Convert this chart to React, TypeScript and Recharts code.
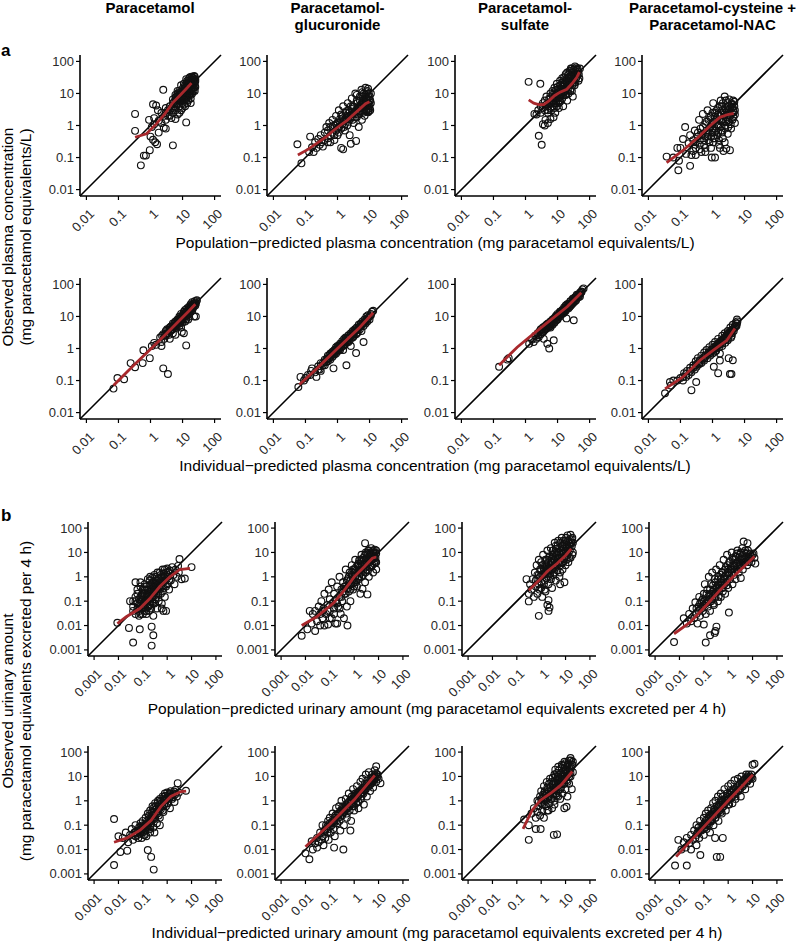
import { ScatterChart, Scatter, XAxis, YAxis, ReferenceLine } from 'recharts';

type Pt = [number, number];

const FONT = '"Liberation Sans", Arial, Helvetica, sans-serif';
const RED = '#a8282c';

const COLUMN_TITLES: string[][] = [
  ['Paracetamol'],
  ['Paracetamol-', 'glucuronide'],
  ['Paracetamol-', 'sulfate'],
  ['Paracetamol-cysteine +', 'Paracetamol-NAC'],
];

const PLASMA_TICKS = [0.01, 0.1, 1, 10, 100];
const URINE_TICKS = [0.001, 0.01, 0.1, 1, 10, 100];

// ---- a: plasma, population-predicted ----
const plasmaPopParacetamol: Pt[] = [
  [0.33, 2.3], [0.33, 0.68], [0.5, 0.057], [0.62, 0.115], [0.72, 0.115], [0.95, 0.17], [1.0, 0.45], [1.2, 0.36],
  [1.4, 0.3], [1.6, 0.26], [1.2, 4.6], [1.5, 4.2], [1.7, 3], [2.5, 13], [5, 0.24], [13, 1.25], [0.9, 1.5], [1.3, 1.7],
  [1.8, 1.4], [2.2, 1.2], [1.1, 0.9], [2.6, 0.85], [3, 0.8], [1.8, 0.6], [2.8, 2], [2.2, 2.5], [1.3, 1.1],
  [3, 2.5], [3.5, 3], [4, 2], [4, 4], [4.5, 3.5], [5, 2.5], [5, 5], [5.5, 4], [6, 3], [6, 6], [6.5, 8], [7, 5], [7, 2.2],
  [7.5, 7], [8, 4], [8, 9], [8.5, 6], [9, 11], [9, 3], [10, 5], [10, 8], [10, 14], [11, 10], [11, 6.5], [12, 4], [12, 12],
  [12, 18], [13, 8], [13, 15], [14, 10], [14, 25], [15, 6], [15, 13], [15, 20], [16, 30], [16, 9], [17, 16], [17, 12],
  [18, 22], [18, 7], [19, 28], [19, 14], [20, 18], [20, 10], [21, 25], [22, 30], [22, 15], [23, 20], [24, 12], [25, 24],
  [9, 18], [7, 12], [6, 9], [5, 6.5], [11, 20], [13, 28], [20, 32], [17, 32], [3, 1.5], [4.5, 1.7], [6, 1.6], [8, 2.5],
  [10, 3.5], [14, 5], [18, 5],
  [5.5, 5.5], [6.5, 4.5], [7, 6.5], [7.5, 9], [8, 7], [8.5, 11], [9, 6], [9.5, 8], [10, 10], [10.5, 12], [11, 7.5],
  [11.5, 16], [12, 9], [12.5, 11], [13, 13], [13.5, 20], [14, 14], [14.5, 8], [15, 17], [15.5, 11], [16, 14], [16.5, 22],
  [17, 20], [17.5, 10], [18, 17], [18.5, 27], [19, 12], [20, 22], [20, 15], [21, 20], [21, 30], [22, 20], [23, 26],
  [24, 18], [24, 33], [25, 28], [19, 33], [16, 18], [14, 22], [12, 14], [10, 6.5], [9, 9], [8, 12], [7, 10], [6, 7.5],
  [5, 3.5], [4, 3], [3.5, 2], [3, 3.5], [20, 25], [22, 12], [18, 9], [15, 11], [13, 6], [11, 4.5], [6, 5], [6.5, 6.5],
  [23, 35], [25, 16],
];
const plasmaPopGlucuronide: Pt[] = [
  [0.056, 0.26], [0.075, 0.066], [0.13, 0.15], [0.14, 0.45], [0.16, 0.21], [0.18, 0.15], [0.2, 0.3], [0.22, 0.2],
  [0.25, 0.38], [0.28, 0.25], [0.3, 0.5], [0.32, 0.3], [0.35, 0.22], [0.4, 0.6], [0.4, 0.35], [0.45, 0.9], [0.5, 0.4],
  [0.5, 0.7], [0.55, 1.2], [0.6, 0.5], [0.6, 0.9], [0.7, 1.5], [0.7, 0.6], [0.8, 1.0], [0.8, 0.35], [0.9, 2], [0.9, 0.7],
  [1, 1.2], [1, 0.5], [1.1, 3], [1.1, 0.9], [1.2, 1.6], [1.3, 0.2], [1.3, 2.2], [1.4, 1.1], [1.5, 0.18], [1.5, 4],
  [1.6, 1.4], [1.7, 0.7], [1.8, 2.5], [1.9, 1.8], [2, 1.0], [2.1, 5], [2.2, 3], [2.4, 0.5], [2.5, 1.6], [2.6, 0.27],
  [2.7, 2.2], [2.8, 7], [3, 4], [3.2, 1.2], [3.4, 2.8], [3.6, 10], [3.8, 0.33], [4, 6], [4, 1.8], [4.3, 3.5], [4.6, 0.9],
  [5, 8], [5, 2.4], [5.3, 4.5], [5.6, 13], [5.8, 1.5], [6, 3], [6.3, 6], [6.6, 10], [7, 2], [7, 4], [7.5, 15], [7.8, 7],
  [8, 3], [8, 5], [8.5, 12], [9, 2.6], [9, 8], [9.5, 4], [10, 6], [10, 3.5], [11, 10], [11, 5],
  [1, 0.8], [1.2, 1.2], [1.4, 2], [1.6, 0.9], [1.8, 1.5], [2, 2], [2.2, 1.3], [2.4, 2.6], [2.6, 1.8], [2.8, 3.3],
  [3, 2.3], [3, 1.5], [3.3, 3.8], [3.5, 1.8], [3.7, 2.5], [4, 3], [4.2, 5], [4.5, 2.2], [4.8, 3.8], [5, 6], [5.3, 2.8],
  [5.5, 3.5], [5.8, 5], [6, 8], [6, 4], [6.3, 2.5], [6.6, 5.5], [7, 3.2], [7, 6.5], [7.3, 9], [7.5, 4.5], [7.8, 2.8],
  [8, 6], [8, 11], [8.3, 4], [8.6, 7], [9, 3.2], [9, 5], [9.5, 10], [9.5, 2.8], [10, 4.5], [10, 8], [10.5, 3], [10.5, 6],
  [0.5, 0.3], [0.6, 0.3], [0.7, 0.9], [0.8, 0.5], [0.9, 1.1], [1.1, 0.6], [1.3, 0.8], [1.5, 1.7], [1.7, 1.1],
  [1.9, 2.8], [2.2, 1.8], [2.6, 4], [9, 14], [6, 11], [4, 9],
];
const plasmaPopSulfate: Pt[] = [
  [1.25, 23], [2.9, 20], [2.6, 0.48], [3.2, 0.25], [1.9, 2.3], [2.2, 2.2], [3.5, 1.1], [4.2, 1.5], [5, 1.2], [6, 1.6],
  [7.5, 1.8], [4, 1.0], [2.5, 3], [3, 4], [3, 2.5], [3.5, 5], [4, 3], [4, 6], [4.5, 8], [5, 4], [5, 2.5], [5.5, 7], [6, 5],
  [6, 10], [6.5, 3], [7, 12], [7, 6], [7.5, 4], [8, 8], [8, 15], [8.5, 2.5], [9, 10], [9, 5], [9.5, 20], [10, 7], [10, 13],
  [11, 3.5], [11, 9], [12, 18], [12, 25], [12, 5.5], [13, 11], [14, 30], [14, 7], [15, 14], [15, 4], [16, 20], [17, 9],
  [18, 40], [18, 12], [19, 25], [20, 6], [20, 16], [22, 30], [22, 10], [24, 50], [24, 20], [26, 14], [27, 35], [28, 60],
  [30, 25], [30, 8], [32, 45], [34, 18], [35, 70], [38, 30], [40, 55], [42, 40], [45, 25], [48, 30], [50, 60], [28, 12],
  [36, 22], [16, 32],
  [5, 3], [5.5, 5], [6, 7], [6.5, 5], [7, 9], [7.5, 6], [8, 11], [8, 5], [9, 7], [9, 13], [10, 9], [10, 16], [11, 11],
  [11, 6], [12, 8], [12, 14], [13, 18], [13, 9], [14, 12], [14, 22], [15, 17], [15, 9], [16, 12], [16, 26], [17, 19],
  [17, 14], [18, 24], [18, 9], [19, 16], [20, 20], [20, 30], [21, 13], [22, 24], [22, 40], [23, 18], [24, 28], [25, 35],
  [25, 12], [26, 22], [27, 45], [28, 30], [29, 18], [30, 40], [31, 55], [32, 30], [33, 22], [35, 35], [36, 50], [38, 42],
  [40, 35], [42, 60], [44, 48], [46, 40], [6, 3.5], [8, 3.5], [9.5, 4], [11, 5], [3.5, 3.5], [4.5, 4.5], [38, 65],
  [26, 60], [20, 45],
];
const plasmaPopCysteine: Pt[] = [
  [0.037, 0.107], [0.086, 0.04], [0.09, 0.08], [0.14, 0.9], [0.2, 0.055], [0.25, 0.16], [0.1, 0.2], [0.12, 0.38],
  [0.15, 0.13], [0.18, 0.28], [0.2, 0.5], [0.22, 0.12], [0.25, 0.35], [0.28, 0.7], [0.3, 0.2], [0.3, 0.12], [0.35, 0.45],
  [0.38, 1.5], [0.4, 0.25], [0.42, 0.8], [0.45, 0.15], [0.5, 0.55], [0.5, 2.3], [0.55, 0.35], [0.6, 1.1], [0.6, 0.2],
  [0.65, 0.7], [0.7, 3], [0.7, 0.45], [0.75, 1.5], [0.8, 0.3], [0.85, 0.9], [0.9, 2], [0.95, 0.1], [1, 0.6], [1, 1.2],
  [1.05, 5], [1.1, 0.4], [1.15, 0.8], [1.2, 0.1], [1.2, 2.5], [1.3, 1.5], [1.4, 0.5], [1.5, 3.5], [1.5, 1], [1.6, 0.25],
  [1.7, 2], [1.7, 0.2], [1.8, 6], [1.9, 0.7], [2, 1.3], [2, 4], [2.1, 0.4], [2.3, 2.8], [2.4, 8], [2.5, 1], [2.7, 0.19],
  [2.8, 1.8], [3, 5], [3, 0.55], [3.2, 3], [3.3, 1.3], [3.5, 0.17], [3.6, 2], [3.8, 0.8], [4, 4.5], [4.2, 1.5], [4.5, 3],
  [4.8, 5.5], [5, 2.2], [2.2, 0.16], [0.08, 0.2], [0.06, 0.1],
  [0.3, 0.3], [0.35, 0.6], [0.4, 0.35], [0.45, 0.5], [0.5, 0.9], [0.55, 0.25], [0.6, 0.45], [0.65, 1.3], [0.7, 0.6],
  [0.75, 0.35], [0.8, 0.8], [0.85, 1.8], [0.9, 0.45], [0.95, 1.1], [1, 0.8], [1, 2.5], [1.05, 0.3], [1.1, 1.3],
  [1.15, 0.6], [1.2, 1.9], [1.3, 0.7], [1.35, 3], [1.4, 1.1], [1.5, 0.6], [1.5, 2.2], [1.6, 1.5], [1.7, 4], [1.8, 0.9],
  [1.8, 2.5], [1.9, 1.4], [2, 0.6], [2, 3], [2.1, 5], [2.2, 1.6], [2.3, 2.2], [2.5, 3.5], [2.5, 0.8], [2.6, 6],
  [2.7, 1.3], [2.8, 2.6], [3, 1.5], [3, 4], [3.1, 0.9], [3.3, 6.5], [3.4, 2.2], [3.6, 3.5], [3.7, 1.1], [3.9, 5],
  [4, 2.5], [4.2, 3.8], [4.4, 6], [4.5, 1.8], [4.6, 2.6], [4.8, 4], [5, 3], [5, 1.2], [1.2, 0.4], [0.9, 0.2],
  [0.6, 0.15], [0.4, 0.18], [2.4, 0.3], [1.6, 0.35],
];

// ---- a: plasma, individual-predicted ----
const plasmaIndParacetamol: Pt[] = [
  [0.07, 0.056], [0.093, 0.12], [0.15, 0.11], [0.24, 0.35], [0.33, 0.26], [0.6, 0.88], [0.57, 0.35], [0.95, 0.5],
  [1.3, 1.5], [1.1, 1.2], [2.5, 0.24], [3.5, 0.16], [13, 1.25], [9.5, 3.3], [11, 3], [23, 10], [1.5, 1.3], [2, 2.2],
  [2.2, 1.6], [2.5, 2.8], [2.7, 2], [3, 3.5], [3, 2.5], [3.3, 4], [3.5, 3], [3.8, 2.7], [4, 4.5], [4.2, 3.5], [4.5, 5],
  [4.8, 4], [5, 6], [5, 3], [5.5, 5], [6, 7], [6, 4.5], [6.5, 5.5], [7, 8], [7, 6], [7.5, 7], [8, 10], [8, 5], [8.5, 8],
  [9, 7], [9, 12], [10, 9], [10, 11], [11, 14], [11, 8], [12, 10], [12, 16], [13, 12], [13, 8], [14, 18], [14, 11],
  [15, 14], [16, 20], [16, 12], [17, 17], [18, 24], [18, 14], [19, 20], [20, 28], [21, 18], [22, 25], [24, 30], [25, 22],
  [27, 30], [26, 10], [15, 8], [9, 4.5], [6, 2.7], [4, 2], [2.2, 1.2],
  [2.3, 2.5], [2.8, 2.6], [3.2, 3], [3.6, 3.8], [4, 3.6], [4.3, 4.8], [4.6, 3.8], [5, 5], [5.3, 4.5], [5.6, 6], [6, 5.5],
  [6.3, 6.5], [6.6, 5], [7, 7.5], [7.3, 6.5], [7.6, 8], [8, 7.5], [8.3, 9], [8.6, 7], [9, 9], [9.5, 8.5], [10, 10],
  [10.5, 9], [11, 11], [11.5, 12], [12, 13], [12.5, 11], [13, 14], [13.5, 13], [14, 15], [14.5, 12], [15, 16], [16, 15],
  [16, 17], [17, 19], [17, 14], [18, 18], [19, 22], [19, 17], [20, 20], [21, 23], [22, 20], [23, 25], [24, 24], [25, 27],
  [26, 25], [28, 32], [20, 15], [16, 10], [12, 7], [10, 6.5], [8, 6],
];
const plasmaIndGlucuronide: Pt[] = [
  [0.06, 0.063], [0.07, 0.13], [0.09, 0.1], [0.1, 0.12], [0.12, 0.15], [0.14, 0.15], [0.15, 0.2], [0.16, 0.24],
  [0.2, 0.18], [0.22, 0.13], [0.25, 0.28], [0.28, 0.22], [0.3, 0.2], [0.3, 0.35], [0.35, 0.3], [0.4, 0.45], [0.4, 0.3],
  [0.45, 0.38], [0.5, 0.6], [0.5, 0.4], [0.55, 0.5], [0.6, 0.7], [0.6, 0.45], [0.7, 0.8], [0.7, 0.55], [0.8, 0.9],
  [0.8, 0.65], [0.9, 1.1], [0.9, 0.7], [1, 1.2], [1, 0.8], [1.1, 0.9], [1.2, 1.4], [1.3, 1.1], [1.4, 1.7], [1.5, 1.2],
  [1.6, 2], [1.7, 1.3], [1.9, 0.3], [1.8, 2.2], [2, 1.6], [2.2, 2.6], [2.4, 1.8], [2.6, 3], [2.8, 2.2], [3, 3.5],
  [3.2, 2.4], [3.5, 4], [3.8, 0.72], [3.8, 2.8], [4, 4.5], [4.3, 3.2], [4.6, 5.5], [5, 4], [5.3, 6], [5.6, 3.5], [6, 7],
  [6.5, 1.6], [6.5, 5], [7, 8], [7.5, 6], [8, 10], [8.5, 7], [9, 11], [10, 8], [11, 12], [12, 14], [13, 15], [2.6, 1.2],
  [1.5, 0.9], [0.75, 0.24],
  [0.5, 0.5], [0.55, 0.6], [0.6, 0.55], [0.65, 0.7], [0.7, 0.65], [0.75, 0.8], [0.8, 0.75], [0.85, 0.85], [0.9, 0.95],
  [0.95, 0.85], [1, 1], [1.05, 1.1], [1.1, 1.2], [1.15, 1], [1.2, 1.2], [1.3, 1.3], [1.4, 1.4], [1.5, 1.5], [1.6, 1.5],
  [1.7, 1.8], [1.8, 1.6], [1.9, 2], [2, 2], [2.1, 2.2], [2.3, 2.1], [2.5, 2.5], [2.7, 2.7], [2.9, 2.6], [3.1, 3.1],
  [3.4, 3.3], [3.6, 3.5], [4, 3.8], [4.4, 4.3], [4.8, 4.6], [5.2, 5], [5.7, 5.5], [6.2, 6], [6.8, 6.5], [7.5, 7.2],
  [8.2, 8], [9, 9], [10, 10], [11, 11], [0.35, 0.35], [0.4, 0.38], [0.45, 0.45], [0.25, 0.22], [0.3, 0.28], [1.2, 0.9],
  [2.2, 1.6], [3, 2.2], [4, 3],
];
const plasmaIndSulfate: Pt[] = [
  [0.15, 0.27], [0.27, 0.45], [0.3, 0.5], [1.3, 1.4], [1.6, 1.9], [1.8, 1.6], [2, 2.5], [2.2, 2], [2.4, 3], [2.6, 2.3],
  [2.8, 3.5], [3, 2.8], [3, 4], [3.3, 3.2], [3.5, 4.5], [3.7, 2], [3.8, 3.6], [4, 5], [4.2, 4], [4.5, 5.5], [4.8, 1.4],
  [5, 4.5], [5, 6], [5.5, 1.0], [5.5, 5.5], [6, 7], [6, 4.5], [6.5, 6], [7, 8], [7, 5.5], [7.6, 1.8], [8, 9], [8, 6.5],
  [9, 10], [9, 7.5], [10, 12], [10, 8.5], [11, 10], [12, 14], [12, 10], [13, 12], [14, 16], [15, 13], [16, 19], [17, 15],
  [18, 22], [19, 8.7], [20, 18], [22, 25], [24, 20], [26, 30], [28, 24], [30, 35], [32, 7.6], [32, 28], [35, 40],
  [38, 32], [40, 48], [45, 40], [50, 55], [55, 60], [60, 70], [65, 75], [50, 42],
  [2.5, 2.6], [3, 3.3], [3.5, 3.2], [4, 4.2], [4.5, 4.2], [5, 5.2], [5.5, 4.8], [6, 6.2], [6.5, 7], [7, 6.8], [7.5, 7.8],
  [8, 7.6], [8.5, 8.4], [9, 9.2], [9.5, 9.8], [10, 9.6], [11, 11.5], [12, 11.6], [13, 13.5], [14, 13.6], [15, 15.5],
  [16, 15.6], [17, 17.5], [18, 17.4], [19, 19.6], [20, 19.4], [22, 22.8], [24, 23.2], [26, 26.5], [28, 27], [30, 31],
  [33, 32], [36, 37], [40, 39], [44, 45], [48, 47], [52, 54], [56, 58], [14, 12], [16, 13], [18, 15], [22, 18], [26, 22],
  [30, 26], [35, 30], [10, 8], [8, 6.5], [6, 5], [20, 24], [25, 30], [30, 36], [40, 45], [12, 14], [9, 10.5],
];
const plasmaIndCysteine: Pt[] = [
  [0.033, 0.04], [0.047, 0.09], [0.06, 0.1], [0.05, 0.07], [0.22, 0.05], [0.31, 0.09], [1.1, 0.27], [1.5, 0.17],
  [3.5, 0.16], [3.9, 0.16], [4.3, 0.43], [1.7, 0.42], [0.08, 0.1], [0.1, 0.12], [0.12, 0.1], [0.13, 0.17], [0.15, 0.13],
  [0.16, 0.2], [0.18, 0.15], [0.2, 0.25], [0.22, 0.18], [0.25, 0.3], [0.28, 0.22], [0.3, 0.4], [0.32, 0.27], [0.35, 0.5],
  [0.38, 0.32], [0.4, 0.42], [0.45, 0.6], [0.45, 0.35], [0.5, 0.5], [0.55, 0.75], [0.55, 0.42], [0.6, 0.6], [0.65, 0.9],
  [0.7, 0.5], [0.75, 0.75], [0.8, 1.1], [0.85, 0.6], [0.9, 0.9], [1, 1.3], [1, 0.7], [1.1, 1], [1.2, 1.6], [1.3, 0.85],
  [1.4, 1.2], [1.5, 2], [1.6, 1.3], [1.7, 0.7], [1.8, 1.7], [2, 2.5], [2, 1.2], [2.2, 1.8], [2.4, 3], [2.5, 1.5],
  [2.7, 2.2], [3, 3.5], [3, 1.8], [3.2, 0.5], [3.3, 2.6], [3.6, 4.5], [3.8, 2.2], [4, 3], [4.3, 5.5], [4.6, 3.5],
  [5, 4.5], [5.3, 6.5], [5.6, 5], [6, 7], [5.8, 8],
  [0.5, 0.45], [0.6, 0.55], [0.7, 0.65], [0.8, 0.7], [0.9, 0.8], [1, 0.9], [1.1, 1.1], [1.2, 1], [1.3, 1.2], [1.4, 1.3],
  [1.5, 1.4], [1.6, 1.5], [1.7, 1.6], [1.8, 1.4], [1.9, 1.8], [2, 1.7], [2.2, 2], [2.4, 2.1], [2.6, 2.4], [2.8, 2.5],
  [3, 2.8], [3.2, 3], [3.4, 3.2], [3.6, 3.3], [3.8, 3.6], [4, 3.8], [4.3, 4], [4.6, 4.2], [5, 5], [5.4, 5.2], [5.8, 6],
  [0.3, 0.3], [0.35, 0.35], [0.4, 0.36], [0.25, 0.25], [0.2, 0.2], [0.15, 0.16], [0.12, 0.13], [1.2, 0.8], [2, 1.4],
  [3, 2], [4, 2.5], [2.5, 1.8], [1.6, 1.1],
];

// ---- b: urine, population-predicted ----
const urinePopParacetamol: Pt[] = [
  [0.009, 0.013], [0.027, 0.008], [0.04, 0.002], [0.075, 0.007], [0.23, 0.0015], [0.23, 0.009], [0.27, 0.004],
  [0.14, 0.03], [0.27, 0.025], [0.6, 0.05], [0.7, 0.04], [3.9, 0.8], [3.2, 5.4], [10, 2.5], [5.3, 0.85], [0.03, 0.1],
  [0.05, 0.6], [0.08, 0.6], [0.04, 0.04], [0.04, 0.06], [0.05, 0.1], [0.05, 0.03], [0.06, 0.2], [0.06, 0.05],
  [0.07, 0.12], [0.07, 0.025], [0.08, 0.4], [0.08, 0.08], [0.09, 0.05], [0.09, 0.18], [0.1, 0.3], [0.1, 0.12],
  [0.1, 0.03], [0.11, 0.07], [0.12, 0.5], [0.12, 0.2], [0.13, 0.1], [0.14, 0.04], [0.15, 0.3], [0.15, 0.15], [0.16, 0.8],
  [0.17, 0.06], [0.18, 0.2], [0.19, 0.45], [0.2, 0.1], [0.2, 1.0], [0.22, 0.3], [0.22, 0.05], [0.24, 0.15], [0.25, 0.6],
  [0.26, 0.08], [0.28, 0.25], [0.3, 1.2], [0.3, 0.4], [0.32, 0.12], [0.34, 0.7], [0.35, 0.2], [0.38, 0.05], [0.4, 0.5],
  [0.4, 1.5], [0.42, 0.3], [0.45, 0.1], [0.48, 0.8], [0.5, 0.4], [0.55, 1.2], [0.55, 0.2], [0.6, 0.6], [0.65, 2],
  [0.7, 0.35], [0.75, 1], [0.8, 0.15], [0.85, 0.7], [0.9, 1.5], [1, 0.5], [1, 2.2], [1.1, 1], [1.2, 0.3], [1.3, 1.8],
  [1.4, 0.7], [1.6, 2.5], [1.8, 1.2], [2, 0.5], [2.2, 2], [2.5, 1], [2.8, 2.8], [3, 1.5], [0.6, 0.08], [0.9, 0.04],
  [0.06, 0.08], [0.07, 0.04], [0.08, 0.15], [0.09, 0.1], [0.1, 0.06], [0.1, 0.2], [0.11, 0.15], [0.12, 0.08],
  [0.12, 0.3], [0.13, 0.05], [0.14, 0.15], [0.14, 0.4], [0.15, 0.1], [0.16, 0.2], [0.16, 0.06], [0.17, 0.3], [0.18, 0.12],
  [0.19, 0.7], [0.2, 0.25], [0.2, 0.07], [0.21, 0.15], [0.22, 0.5], [0.23, 0.2], [0.24, 0.9], [0.25, 0.1], [0.26, 0.35],
  [0.27, 0.18], [0.28, 0.6], [0.3, 0.25], [0.3, 0.08], [0.32, 0.45], [0.33, 1], [0.35, 0.3], [0.36, 0.15], [0.38, 0.7],
  [0.4, 0.4], [0.42, 0.2], [0.45, 0.9], [0.45, 0.55], [0.5, 0.3], [0.5, 1.5], [0.55, 0.7], [0.6, 0.4], [0.6, 1],
  [0.65, 0.25], [0.7, 1.3], [0.7, 0.6], [0.8, 0.9], [0.8, 2], [0.9, 0.4], [1, 1], [1.1, 1.6], [1.2, 0.7], [0.08, 0.03],
  [0.12, 0.04], [0.18, 0.04], [0.05, 0.15], [0.04, 0.1], [0.06, 0.3],
];
const urinePopGlucuronide: Pt[] = [
  [0.007, 0.0038], [0.012, 0.007], [0.015, 0.04], [0.018, 0.012], [0.02, 0.03], [0.025, 0.006], [0.025, 0.04],
  [0.03, 0.015], [0.035, 0.06], [0.04, 0.01], [0.04, 0.03], [0.045, 0.1], [0.05, 0.02], [0.055, 0.05], [0.06, 0.01],
  [0.06, 0.2], [0.07, 0.03], [0.08, 0.07], [0.085, 0.011], [0.09, 0.3], [0.1, 0.04], [0.1, 0.12], [0.12, 0.02],
  [0.12, 0.6], [0.13, 0.08], [0.15, 0.2], [0.15, 0.03], [0.17, 0.012], [0.18, 0.1], [0.2, 0.4], [0.2, 0.012],
  [0.22, 0.06], [0.25, 1], [0.25, 0.15], [0.28, 0.03], [0.3, 0.3], [0.32, 0.1], [0.35, 0.6], [0.38, 0.02], [0.4, 0.2],
  [0.45, 2], [0.45, 0.4], [0.5, 0.06], [0.53, 0.01], [0.55, 0.8], [0.6, 0.25], [0.65, 1.5], [0.7, 0.1], [0.75, 0.5],
  [0.8, 3], [0.85, 1], [0.9, 0.3], [1, 2], [1, 0.6], [1.1, 5], [1.2, 1.2], [1.3, 0.4], [1.4, 3], [1.5, 0.8], [1.6, 4.8],
  [1.7, 1.8], [1.8, 0.2], [2, 8], [2, 2.5], [2.2, 0.32], [2.3, 1.2], [2.5, 5], [2.7, 3], [2.8, 0.6], [2.8, 24], [3, 10],
  [3.3, 2], [3.5, 0.19], [3.5, 6], [3.8, 12], [4, 1], [4.2, 4], [4.5, 8], [5, 15], [5, 2.5], [5.5, 5], [6, 10], [6, 1.5],
  [6.5, 3.5], [7, 7], [7, 13], [7.5, 4], [8, 9], [8, 2],
  [0.3, 0.15], [0.35, 0.25], [0.4, 0.4], [0.45, 0.2], [0.5, 0.7], [0.55, 0.35], [0.6, 0.5], [0.6, 1], [0.7, 0.7],
  [0.7, 0.3], [0.8, 1.2], [0.8, 0.5], [0.9, 0.8], [0.9, 2], [1, 1.5], [1, 0.4], [1.1, 1], [1.2, 2.5], [1.2, 0.6],
  [1.3, 1.5], [1.4, 0.9], [1.5, 3.5], [1.5, 1.8], [1.6, 1], [1.7, 2.5], [1.8, 5], [1.9, 1.5], [2, 3], [2, 1], [2.2, 4],
  [2.3, 6], [2.4, 2], [2.6, 3.5], [2.8, 8], [2.9, 1.5], [3, 4.5], [3.2, 2.5], [3.4, 9], [3.5, 3.5], [3.7, 1.8], [3.9, 5],
  [4, 12], [4.2, 7], [4.5, 3], [4.7, 10], [5, 5], [5, 7], [5.5, 3], [5.5, 9], [6, 12], [6, 5.5], [6.5, 7], [7, 4.5],
  [7, 10], [7.5, 6], [8, 12], [8, 4], [0.15, 0.05], [0.2, 0.08], [0.25, 0.05], [0.1, 0.02], [0.05, 0.04], [0.08, 0.04],
];
const urinePopSulfate: Pt[] = [
  [0.31, 0.098], [0.31, 0.2], [0.8, 0.025], [2, 0.11], [2, 0.04], [2.2, 0.055], [1.8, 0.07], [0.25, 0.8], [0.35, 0.5],
  [0.4, 0.3], [0.45, 0.8], [0.5, 0.15], [0.55, 1.5], [0.6, 0.4], [0.65, 3], [0.7, 0.8], [0.7, 0.2], [0.8, 5], [0.8, 1.2],
  [0.85, 0.3], [0.9, 2], [1, 0.6], [1, 4], [1.1, 1.2], [1.1, 0.15], [1.2, 8], [1.2, 2.5], [1.3, 0.5], [1.4, 1.5],
  [1.5, 5], [1.5, 0.25], [1.6, 0.9], [1.7, 3], [1.8, 12], [1.9, 1.8], [2, 0.5], [2.1, 6], [2.2, 2.5], [2.4, 1], [2.5, 15],
  [2.6, 4], [2.8, 0.35], [3, 8], [3, 2], [3.2, 1.2], [3.4, 5], [3.6, 25], [3.8, 3], [4, 19], [4, 0.7], [4.3, 10],
  [4.6, 1.8], [5, 6], [5, 30], [5.3, 3.5], [5.6, 1], [6, 15], [6, 0.5], [6.5, 8], [7, 4], [7, 40], [7.5, 2], [8, 20],
  [8.5, 10], [9, 5.5], [9, 0.6], [10, 30], [10, 3], [11, 15], [12, 8], [12, 50], [13, 4], [14, 25], [15, 12], [16, 53],
  [16, 6], [18, 35], [18, 18], [20, 10], [20, 25],
  [0.6, 0.7], [0.7, 1.2], [0.8, 0.5], [0.9, 1], [1, 1.8], [1, 0.35], [1.1, 3], [1.2, 1.2], [1.3, 2], [1.4, 0.7],
  [1.5, 3], [1.6, 1.5], [1.7, 5], [1.8, 2.5], [1.9, 1], [2, 4], [2.1, 2], [2.2, 7], [2.3, 1.3], [2.5, 3], [2.6, 5.5],
  [2.8, 2], [3, 4], [3, 12], [3.2, 7], [3.4, 2.5], [3.5, 9], [3.7, 4.5], [4, 6], [4, 14], [4.3, 3], [4.5, 8], [4.8, 20],
  [5, 4], [5.3, 10], [5.6, 6], [6, 25], [6, 3], [6.5, 12], [7, 6], [7.3, 18], [7.6, 9], [8, 30], [8, 4], [8.5, 14],
  [9, 22], [9.5, 7], [10, 12], [10.5, 40], [11, 5], [11.5, 20], [12, 10], [13, 30], [13, 15], [14, 6], [15, 35],
  [15, 18], [17, 25], [19, 40], [19, 8], [2.5, 0.8], [3.5, 1.5], [6, 1.5], [1.4, 0.3],
];
const urinePopCysteine: Pt[] = [
  [0.006, 0.0021], [0.12, 0.002], [0.18, 0.004], [0.28, 0.005], [0.33, 0.009], [0.1, 0.011], [1.07, 0.034], [4.3, 28],
  [6.2, 24], [0.3, 0.006], [0.015, 0.02], [0.02, 0.012], [0.025, 0.03], [0.03, 0.015], [0.035, 0.05], [0.04, 0.02],
  [0.045, 0.09], [0.05, 0.03], [0.055, 0.012], [0.06, 0.06], [0.065, 0.15], [0.07, 0.025], [0.08, 0.1], [0.09, 0.04],
  [0.1, 0.2], [0.1, 0.07], [0.11, 0.5], [0.12, 0.03], [0.13, 0.12], [0.14, 0.3], [0.15, 0.06], [0.16, 1], [0.17, 0.18],
  [0.18, 0.04], [0.2, 0.5], [0.2, 0.1], [0.22, 1.5], [0.24, 0.25], [0.26, 0.07], [0.28, 0.8], [0.3, 0.15], [0.32, 2],
  [0.35, 0.4], [0.38, 0.1], [0.4, 1], [0.42, 0.25], [0.45, 3], [0.5, 0.6], [0.5, 0.15], [0.55, 1.5], [0.6, 0.35],
  [0.65, 5], [0.7, 1], [0.75, 0.2], [0.8, 2.5], [0.85, 0.6], [0.9, 8], [1, 1.5], [1, 0.35], [1.1, 4], [1.2, 0.8],
  [1.3, 2], [1.4, 10], [1.5, 0.5], [1.6, 5], [1.7, 1.2], [1.8, 3], [2, 7], [2, 0.8], [2.2, 2], [2.4, 12], [2.5, 4],
  [2.7, 1.5], [3, 8], [3, 3], [3.3, 0.9], [3.5, 5], [3.8, 15], [4, 2], [4.5, 10], [5, 4], [5.5, 7], [6, 3], [6.5, 12],
  [7, 6], [8, 9], [9, 4], [10, 8], [12, 6], [13, 3.5],
  [0.05, 0.05], [0.06, 0.04], [0.07, 0.08], [0.08, 0.05], [0.09, 0.12], [0.1, 0.1], [0.12, 0.08], [0.13, 0.2],
  [0.15, 0.15], [0.16, 0.09], [0.18, 0.3], [0.2, 0.2], [0.22, 0.12], [0.24, 0.45], [0.25, 0.3], [0.28, 0.2], [0.3, 0.6],
  [0.32, 0.35], [0.35, 0.25], [0.38, 0.8], [0.4, 0.5], [0.45, 0.35], [0.48, 1.2], [0.5, 0.8], [0.55, 0.5], [0.6, 1.5],
  [0.65, 0.8], [0.7, 0.5], [0.75, 2], [0.8, 1.2], [0.9, 0.8], [0.95, 3], [1, 2], [1.1, 1.2], [1.2, 4], [1.3, 2.5],
  [1.4, 1.5], [1.5, 6], [1.6, 3], [1.8, 2], [1.9, 5], [2.1, 3.5], [2.3, 9], [2.5, 2.5], [2.7, 6], [2.9, 4], [3.2, 10],
  [3.5, 3], [3.8, 7], [4, 5], [4.5, 4], [5, 12], [5, 6], [6, 9], [6.5, 5], [7, 4], [8, 6], [9, 7], [11, 9], [0.4, 0.15],
  [0.6, 0.25], [0.9, 0.45], [0.25, 0.08],
];

// ---- b: urine, individual-predicted ----
const urineIndParacetamol: Pt[] = [
  [0.0066, 0.18], [0.0066, 0.0023], [0.01, 0.035], [0.012, 0.008], [0.023, 0.009], [0.16, 0.0095], [0.22, 0.005],
  [0.28, 0.0015], [5.9, 2.6], [2.7, 5.3], [0.015, 0.03], [0.02, 0.05], [0.025, 0.02], [0.03, 0.04], [0.035, 0.07],
  [0.04, 0.025], [0.045, 0.05], [0.05, 0.1], [0.05, 0.035], [0.06, 0.06], [0.065, 0.03], [0.07, 0.08], [0.075, 0.045],
  [0.08, 0.12], [0.085, 0.05], [0.09, 0.03], [0.1, 0.07], [0.1, 0.15], [0.11, 0.04], [0.12, 0.1], [0.13, 0.2],
  [0.13, 0.06], [0.14, 0.035], [0.15, 0.12], [0.16, 0.3], [0.17, 0.08], [0.18, 0.18], [0.2, 0.05], [0.2, 0.4],
  [0.22, 0.12], [0.24, 0.25], [0.25, 0.6], [0.27, 0.08], [0.28, 0.35], [0.3, 0.18], [0.32, 0.8], [0.35, 0.45],
  [0.38, 0.12], [0.4, 0.3], [0.42, 1], [0.45, 0.6], [0.5, 0.2], [0.5, 1.2], [0.55, 0.45], [0.6, 0.8], [0.65, 1.5],
  [0.7, 0.35], [0.75, 1], [0.8, 2], [0.9, 0.6], [1, 1.3], [1, 2.2], [1.1, 0.8], [1.2, 1.8], [1.3, 0.5], [1.4, 2.5],
  [1.6, 1.2], [1.8, 2], [2, 0.9], [2.2, 2.8], [2.5, 1.5], [3, 2.2], [0.3, 0.05], [0.5, 0.1],
  [0.05, 0.05], [0.06, 0.04], [0.07, 0.06], [0.08, 0.05], [0.09, 0.07], [0.1, 0.05], [0.1, 0.1], [0.11, 0.08],
  [0.12, 0.06], [0.13, 0.1], [0.14, 0.08], [0.15, 0.15], [0.16, 0.1], [0.17, 0.12], [0.18, 0.25], [0.2, 0.15],
  [0.21, 0.1], [0.22, 0.2], [0.24, 0.35], [0.25, 0.18], [0.27, 0.5], [0.28, 0.25], [0.3, 0.35], [0.32, 0.2], [0.33, 0.6],
  [0.35, 0.3], [0.38, 0.5], [0.4, 0.8], [0.42, 0.4], [0.45, 0.25], [0.47, 0.7], [0.5, 0.5], [0.55, 1], [0.6, 0.6],
  [0.65, 0.4], [0.7, 1.2], [0.75, 0.7], [0.8, 1], [0.85, 1.6], [0.9, 1.1], [1, 0.8], [1.1, 1.5], [1.2, 1.2], [1.3, 2],
  [1.5, 1.6], [1.7, 1.4], [1.9, 2.4], [2.1, 1.8], [0.12, 0.04], [0.2, 0.07], [0.08, 0.09], [0.04, 0.04],
];
const urineIndGlucuronide: Pt[] = [
  [0.01, 0.007], [0.0145, 0.004], [0.018, 0.022], [0.02, 0.01], [0.025, 0.018], [0.03, 0.03], [0.03, 0.012],
  [0.035, 0.02], [0.04, 0.05], [0.045, 0.025], [0.05, 0.035], [0.05, 0.1], [0.055, 0.015], [0.06, 0.06], [0.065, 0.03],
  [0.07, 0.1], [0.08, 0.05], [0.085, 0.15], [0.09, 0.025], [0.1, 0.09], [0.1, 0.2], [0.11, 0.05], [0.12, 0.13],
  [0.13, 0.3], [0.14, 0.07], [0.15, 0.15], [0.16, 0.035], [0.17, 0.25], [0.18, 0.5], [0.2, 0.12], [0.22, 0.3],
  [0.24, 0.6], [0.25, 0.15], [0.27, 0.06], [0.28, 0.4], [0.3, 1], [0.32, 0.25], [0.35, 0.6], [0.36, 0.01], [0.38, 0.1],
  [0.4, 0.4], [0.45, 1.2], [0.5, 0.5], [0.5, 0.2], [0.55, 0.8], [0.6, 2], [0.65, 0.4], [0.7, 1], [0.75, 0.15],
  [0.8, 1.5], [0.85, 0.6], [0.9, 3], [1, 1.2], [1, 0.4], [1.1, 2], [1.2, 0.8], [1.3, 4], [1.4, 1.5], [1.5, 0.5],
  [1.6, 2.5], [1.8, 6], [1.9, 1.2], [2, 3], [2.2, 8], [2.4, 2], [2.5, 0.7], [2.7, 5], [3, 3], [3, 12], [3.3, 1.5],
  [3.5, 7], [4, 4], [4, 15], [4.5, 2.5], [5, 9], [5, 5], [5.5, 12], [6, 3.5], [6.5, 8], [7, 18], [8, 26], [8, 6], [9, 12],
  [10, 8], [12, 5.3], [0.7, 0.06], [0.15, 0.012],
  [0.06, 0.05], [0.07, 0.07], [0.08, 0.09], [0.09, 0.07], [0.1, 0.12], [0.12, 0.1], [0.13, 0.15], [0.15, 0.12],
  [0.16, 0.2], [0.18, 0.15], [0.2, 0.25], [0.22, 0.2], [0.25, 0.3], [0.27, 0.22], [0.3, 0.4], [0.33, 0.3], [0.36, 0.5],
  [0.4, 0.35], [0.43, 0.6], [0.47, 0.45], [0.5, 0.7], [0.55, 0.55], [0.6, 0.9], [0.65, 0.6], [0.7, 1.1], [0.75, 0.8],
  [0.8, 1], [0.9, 1.3], [0.95, 0.9], [1, 1.6], [1.1, 1.2], [1.2, 1.8], [1.3, 1.3], [1.4, 2.2], [1.5, 1.6], [1.7, 2.5],
  [1.8, 1.9], [2, 2.8], [2.2, 2.2], [2.4, 3.5], [2.6, 2.8], [2.9, 4], [3.2, 3.5], [3.5, 5], [3.8, 4], [4.2, 6], [4.6, 5],
  [5, 7], [5.5, 6], [6, 9], [6.5, 7], [7, 11], [7.5, 9], [8, 13], [9, 10], [1, 0.6], [1.5, 0.9], [2, 1.5], [0.5, 0.3],
];
const urineIndSulfate: Pt[] = [
  [0.31, 0.025], [0.2, 0.17], [0.31, 0.1], [0.95, 0.07], [3.3, 0.04], [4.5, 0.042], [11, 0.57], [8.9, 0.5], [0.4, 0.3],
  [0.6, 0.07], [0.5, 0.5], [0.6, 0.2], [0.7, 1], [0.7, 0.35], [0.8, 0.6], [0.9, 1.5], [0.9, 0.25], [1, 0.8], [1, 2.5],
  [1.1, 0.4], [1.2, 1.3], [1.3, 4], [1.3, 0.2], [1.4, 0.7], [1.5, 2], [1.6, 1], [1.7, 6], [1.8, 0.4], [1.9, 3], [2, 1.5],
  [2.2, 0.8], [2.3, 8], [2.5, 2.5], [2.7, 1.2], [2.8, 0.5], [3, 5], [3.2, 2], [3.5, 12], [3.5, 1], [3.8, 19], [4, 3.5],
  [4.3, 1.6], [4.6, 8], [5, 2.5], [5, 25], [5.5, 5], [6, 1.2], [6, 12], [6.5, 3.5], [7, 30], [7, 7], [7.5, 2], [8, 15],
  [8.5, 5], [9, 40], [9, 10], [10, 3], [10, 20], [11, 7], [12, 30], [12, 1.5], [13, 12], [14, 45], [14, 5], [15, 20],
  [16, 57], [16, 10], [18, 30], [18, 3], [20, 15], [20, 40],
  [0.8, 0.9], [1, 1.2], [1.1, 0.7], [1.2, 1.8], [1.3, 1.1], [1.4, 2.5], [1.5, 1.4], [1.6, 0.6], [1.7, 2], [1.8, 3.5],
  [1.9, 1.3], [2, 2.5], [2.1, 5], [2.2, 1.8], [2.4, 3.5], [2.5, 1.2], [2.6, 6], [2.8, 2.5], [3, 4], [3, 9], [3.2, 1.6],
  [3.4, 6], [3.6, 3], [3.8, 10], [4, 5], [4.2, 2], [4.4, 14], [4.6, 7], [5, 4], [5, 10], [5.4, 18], [5.6, 6], [6, 8],
  [6.2, 3], [6.5, 14], [7, 22], [7, 5], [7.5, 10], [8, 7], [8, 28], [8.5, 13], [9, 5], [9.5, 18], [10, 35], [10, 9],
  [11, 14], [11, 25], [12, 6], [12.5, 18], [13, 35], [14, 10], [15, 28], [16, 14], [17, 45], [17, 22], [19, 30],
  [3.5, 0.7], [5, 1.5], [2, 0.4],
];
const urineIndCysteine: Pt[] = [
  [0.0066, 0.0022], [0.02, 0.0022], [0.009, 0.025], [0.34, 0.005], [0.47, 0.005], [0.29, 0.03], [0.072, 0.006],
  [10, 30], [12, 33], [0.6, 0.03], [0.012, 0.01], [0.015, 0.02], [0.018, 0.012], [0.02, 0.03], [0.025, 0.018],
  [0.03, 0.04], [0.03, 0.01], [0.035, 0.025], [0.04, 0.06], [0.045, 0.03], [0.05, 0.1], [0.05, 0.015], [0.055, 0.05],
  [0.06, 0.08], [0.065, 0.03], [0.07, 0.15], [0.08, 0.06], [0.09, 0.1], [0.1, 0.2], [0.1, 0.04], [0.11, 0.12],
  [0.12, 0.3], [0.13, 0.07], [0.14, 0.18], [0.15, 0.4], [0.16, 0.1], [0.17, 0.25], [0.18, 0.05], [0.2, 0.5], [0.2, 0.15],
  [0.22, 0.3], [0.24, 0.8], [0.25, 0.1], [0.27, 0.45], [0.3, 0.2], [0.3, 1], [0.33, 0.6], [0.35, 0.3], [0.38, 1.5],
  [0.4, 0.15], [0.42, 0.7], [0.45, 0.4], [0.5, 2], [0.5, 1], [0.55, 0.3], [0.6, 1.5], [0.65, 0.6], [0.7, 3], [0.75, 1],
  [0.8, 0.4], [0.9, 2], [1, 1.2], [1, 4], [1.1, 0.7], [1.2, 2.5], [1.3, 5], [1.4, 1.5], [1.5, 0.8], [1.6, 3], [1.8, 7],
  [2, 2], [2, 1.2], [2.3, 4], [2.5, 8], [2.7, 2.5], [3, 5], [3.3, 1.5], [3.5, 10], [4, 4], [4.5, 7], [5, 3], [5.5, 12],
  [6, 6], [7, 9], [8, 5], [9, 12], [10, 8],
  [0.05, 0.04], [0.06, 0.05], [0.07, 0.06], [0.08, 0.09], [0.09, 0.07], [0.1, 0.1], [0.11, 0.08], [0.12, 0.15],
  [0.13, 0.11], [0.15, 0.12], [0.16, 0.2], [0.18, 0.15], [0.2, 0.25], [0.22, 0.18], [0.25, 0.35], [0.27, 0.25],
  [0.3, 0.4], [0.32, 0.3], [0.35, 0.5], [0.38, 0.35], [0.4, 0.6], [0.45, 0.5], [0.5, 0.7], [0.55, 0.5], [0.6, 0.9],
  [0.65, 0.7], [0.7, 1.1], [0.75, 0.8], [0.8, 1.3], [0.9, 1], [1, 1.5], [1.1, 1.1], [1.2, 1.8], [1.3, 1.3], [1.4, 2.2],
  [1.5, 1.6], [1.7, 2.5], [1.8, 1.8], [2, 3], [2.2, 2.3], [2.4, 3.5], [2.6, 2.8], [2.9, 4.5], [3.2, 3.2], [3.5, 6],
  [3.8, 4.5], [4.2, 7], [4.6, 5], [5, 8], [5.5, 6.5], [6, 10], [6.5, 7], [7, 12], [7.5, 8], [8, 10], [9, 9], [0.5, 0.35],
  [1, 0.7], [2, 1.5], [0.3, 0.2], [0.2, 0.14],
];

// ---- smoothed (red) trend lines ----
const smoothPlasmaPopParacetamol: Pt[] = [[0.33, 0.43], [0.75, 0.55], [1.5, 1.1], [2.8, 2.3], [5, 5.2], [9.3, 9.8], [14, 15], [19, 21]];
const smoothPlasmaPopGlucuronide: Pt[] = [[0.058, 0.12], [0.12, 0.18], [0.23, 0.28], [0.45, 0.45], [0.75, 0.7], [1.2, 1.0], [2, 1.45], [3.5, 2.4], [5, 3.3], [7.5, 4.8], [10, 5.5]];
const smoothPlasmaPopSulfate: Pt[] = [[1.26, 6.3], [1.8, 5], [2.6, 4.5], [3.7, 4.5], [5.5, 6], [8, 8.5], [12, 11], [19.5, 13.5], [28, 20], [40, 32], [48, 46]];
const smoothPlasmaPopCysteine: Pt[] = [[0.037, 0.07], [0.12, 0.166], [0.41, 0.49], [0.93, 1.07], [1.7, 1.8], [3, 2.2], [4.6, 2.4]];
const smoothPlasmaIndParacetamol: Pt[] = [[0.07, 0.07], [0.3, 0.3], [1, 0.95], [3, 2.8], [8, 7.5], [15, 14], [25, 24]];
const smoothPlasmaIndGlucuronide: Pt[] = [[0.065, 0.075], [0.2, 0.21], [1, 1], [5, 4.6], [13, 13]];
const smoothPlasmaIndSulfate: Pt[] = [[0.15, 0.3], [0.55, 1.1], [1.8, 2.9], [6, 7.7], [20, 20], [55, 55]];
const smoothPlasmaIndCysteine: Pt[] = [[0.033, 0.055], [0.12, 0.13], [0.41, 0.43], [1.07, 0.89], [2.8, 1.8], [5, 4.2]];
const smoothUrinePopParacetamol: Pt[] = [[0.009, 0.012], [0.021, 0.023], [0.075, 0.05], [0.19, 0.125], [0.5, 0.4], [1.3, 1.0], [3.3, 2.0], [8.6, 2.2]];
const smoothUrinePopGlucuronide: Pt[] = [[0.007, 0.01], [0.029, 0.023], [0.14, 0.083], [0.36, 0.25], [1, 1], [2.6, 2.6], [5.6, 5.8], [8, 6.5]];
const smoothUrinePopSulfate: Pt[] = [[0.31, 0.28], [0.8, 0.7], [1.77, 1.66], [4.6, 3.6], [10, 7.5], [17, 14]];
const smoothUrinePopCysteine: Pt[] = [[0.006, 0.0046], [0.027, 0.0135], [0.13, 0.07], [0.47, 0.29], [1.6, 1.0], [5.4, 3.1], [12, 6.8]];
const smoothUrineIndParacetamol: Pt[] = [[0.0066, 0.02], [0.023, 0.03], [0.08, 0.064], [0.22, 0.16], [0.55, 0.58], [1.4, 1.5], [3.7, 2.4], [6, 2.5]];
const smoothUrineIndGlucuronide: Pt[] = [[0.01, 0.013], [0.1, 0.11], [1, 1.1], [7, 11]];
const smoothUrineIndSulfate: Pt[] = [[0.18, 0.07], [0.43, 0.42], [0.94, 1.06], [2.4, 2], [6.6, 4.5], [19, 16]];
const smoothUrineIndCysteine: Pt[] = [[0.0073, 0.0051], [0.1, 0.085], [1, 1], [10.3, 11.7]];

const ROW_A_POP = [plasmaPopParacetamol, plasmaPopGlucuronide, plasmaPopSulfate, plasmaPopCysteine];
const ROW_A_IND = [plasmaIndParacetamol, plasmaIndGlucuronide, plasmaIndSulfate, plasmaIndCysteine];
const ROW_B_POP = [urinePopParacetamol, urinePopGlucuronide, urinePopSulfate, urinePopCysteine];
const ROW_B_IND = [urineIndParacetamol, urineIndGlucuronide, urineIndSulfate, urineIndCysteine];
const SMOOTH_A_POP = [smoothPlasmaPopParacetamol, smoothPlasmaPopGlucuronide, smoothPlasmaPopSulfate, smoothPlasmaPopCysteine];
const SMOOTH_A_IND = [smoothPlasmaIndParacetamol, smoothPlasmaIndGlucuronide, smoothPlasmaIndSulfate, smoothPlasmaIndCysteine];
const SMOOTH_B_POP = [smoothUrinePopParacetamol, smoothUrinePopGlucuronide, smoothUrinePopSulfate, smoothUrinePopCysteine];
const SMOOTH_B_IND = [smoothUrineIndParacetamol, smoothUrineIndGlucuronide, smoothUrineIndSulfate, smoothUrineIndCysteine];

// log10 limits with ggplot-style 5% expansion
const PLASMA_DOMAIN: [number, number] = [Math.pow(10, -2.2), Math.pow(10, 2.2)];
const URINE_DOMAIN: [number, number] = [Math.pow(10, -3.25), Math.pow(10, 2.25)];

const A_LEFTS = [79.5, 267, 454.5, 642];
const B_LEFTS = [88, 275, 462, 649];
const A_SIZE = 141;
const B_SIZE = 134;

const PAD_L = 60;
const PAD_B = 60;
const PAD_T = 10;
const PAD_R = 10;

const XTick = (p: any) => {
  const x = p.x + 2;
  const y = p.y + 8;
  return (
    <text x={x} y={y} dy="0.72em" textAnchor="end" transform={`rotate(-45 ${x} ${y})`}
      fontSize={13} fontFamily={FONT} fill="#2a2a2a">
      {String(p.payload.value)}
    </text>
  );
};

const YTick = (p: any) => (
  <text x={p.x} y={p.y} dy="0.35em" textAnchor="end" fontSize={13} fontFamily={FONT} fill="#2a2a2a">
    {String(p.payload.value)}
  </text>
);

const Ring = (p: any) => <circle cx={p.cx} cy={p.cy} r={3.4} fill="none" stroke="#111" strokeWidth={1.15} />;
const NoDot = () => <g />;

function Panel({ left, top, size, domain, ticks, points, smooth }: {
  left: number; top: number; size: number; domain: [number, number]; ticks: number[]; points: Pt[]; smooth: Pt[];
}) {
  const data = points.map(([x, y]) => ({ x, y }));
  const trend = smooth.map(([x, y]) => ({ x, y }));
  const [lo, hi] = domain;
  return (
    <div style={{ position: 'absolute', left: left - PAD_L, top: top - PAD_T }}>
      <ScatterChart width={size + PAD_L + PAD_R} height={size + PAD_T + PAD_B}
        margin={{ top: PAD_T, right: PAD_R, bottom: 0, left: 0 }}>
        <XAxis type="number" dataKey="x" scale="log" domain={domain} allowDataOverflow ticks={ticks} interval={0}
          height={PAD_B} tickSize={4} tickMargin={0} tick={XTick}
          axisLine={{ stroke: '#000', strokeWidth: 1.6 }} tickLine={{ stroke: '#000', strokeWidth: 1.2 }} />
        <YAxis type="number" dataKey="y" scale="log" domain={domain} allowDataOverflow ticks={ticks} interval={0}
          width={PAD_L} tickSize={4} tickMargin={2} tick={YTick}
          axisLine={{ stroke: '#000', strokeWidth: 1.6 }} tickLine={{ stroke: '#000', strokeWidth: 1.2 }} />
        <ReferenceLine segment={[{ x: lo, y: lo }, { x: hi, y: hi }]} stroke="#000" strokeWidth={1.6} />
        <Scatter data={data} shape={Ring} isAnimationActive={false} />
        <Scatter data={trend} shape={NoDot} line={{ stroke: RED, strokeWidth: 2.8 }} lineType="joint"
          isAnimationActive={false} />
      </ScatterChart>
    </div>
  );
}

export default function App() {
  const txt = { fontFamily: FONT, fill: '#000' };
  return (
    <div style={{ position: 'absolute', left: 0, top: 0, width: 800, height: 943, background: '#fff' }}>
      <svg width={800} height={943} style={{ position: 'absolute', left: 0, top: 0 }}>
        {COLUMN_TITLES.map((lines, i) => (
          <text key={i} x={A_LEFTS[i] + A_SIZE / 2} y={12.5} textAnchor="middle" fontSize={15} fontWeight="bold" {...txt}>
            {lines.map((l, j) => (
              <tspan key={j} x={A_LEFTS[i] + A_SIZE / 2} dy={j === 0 ? 0 : 17.5}>{l}</tspan>
            ))}
          </text>
        ))}
        <text x={1} y={56} fontSize={17} fontWeight="bold" {...txt}>a</text>
        <text x={1} y={521} fontSize={17} fontWeight="bold" {...txt}>b</text>

        <text x={435} y={248} textAnchor="middle" fontSize={15.5} {...txt}>
          Population−predicted plasma concentration (mg paracetamol equivalents/L)
        </text>
        <text x={435} y={471} textAnchor="middle" fontSize={15.5} {...txt}>
          Individual−predicted plasma concentration (mg paracetamol equivalents/L)
        </text>
        <text x={437} y={714} textAnchor="middle" fontSize={15.5} {...txt}>
          Population−predicted urinary amount (mg paracetamol equivalents excreted per 4 h)
        </text>
        <text x={437} y={938} textAnchor="middle" fontSize={15.5} {...txt}>
          Individual−predicted urinary amount (mg paracetamol equivalents excreted per 4 h)
        </text>

        <text transform="translate(12.5 237) rotate(-90)" textAnchor="middle" fontSize={15.5} {...txt}>
          Observed plasma concentration
        </text>
        <text transform="translate(30.5 237) rotate(-90)" textAnchor="middle" fontSize={15.5} {...txt}>
          (mg paracetamol equivalents/L)
        </text>
        <text transform="translate(12.5 701) rotate(-90)" textAnchor="middle" fontSize={15.5} {...txt}>
          Observed urinary amount
        </text>
        <text transform="translate(30.5 701) rotate(-90)" textAnchor="middle" fontSize={15.5} {...txt}>
          (mg paracetamol equivalents excreted per 4 h)
        </text>
      </svg>

      {A_LEFTS.map((l, i) => (
        <Panel key={`ap${i}`} left={l} top={55} size={A_SIZE} domain={PLASMA_DOMAIN} ticks={PLASMA_TICKS}
          points={ROW_A_POP[i]} smooth={SMOOTH_A_POP[i]} />
      ))}
      {A_LEFTS.map((l, i) => (
        <Panel key={`ai${i}`} left={l} top={278} size={A_SIZE} domain={PLASMA_DOMAIN} ticks={PLASMA_TICKS}
          points={ROW_A_IND[i]} smooth={SMOOTH_A_IND[i]} />
      ))}
      {B_LEFTS.map((l, i) => (
        <Panel key={`bp${i}`} left={l} top={522} size={B_SIZE} domain={URINE_DOMAIN} ticks={URINE_TICKS}
          points={ROW_B_POP[i]} smooth={SMOOTH_B_POP[i]} />
      ))}
      {B_LEFTS.map((l, i) => (
        <Panel key={`bi${i}`} left={l} top={746} size={B_SIZE} domain={URINE_DOMAIN} ticks={URINE_TICKS}
          points={ROW_B_IND[i]} smooth={SMOOTH_B_IND[i]} />
      ))}
    </div>
  );
}
